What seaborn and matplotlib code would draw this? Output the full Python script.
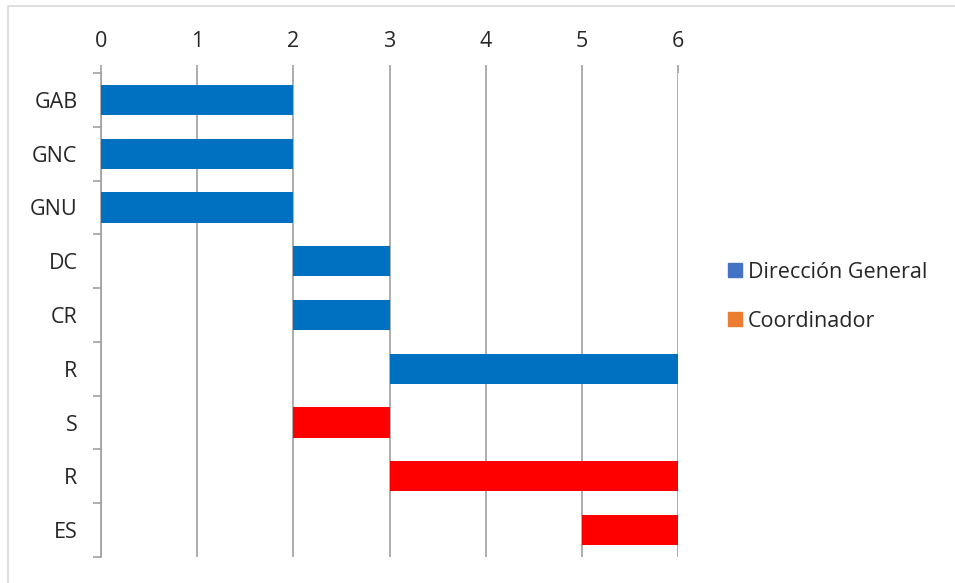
import numpy as np
import pandas as pd
import matplotlib.pyplot as plt
import seaborn as sns
from matplotlib.lines import Line2D
from matplotlib.patches import Rectangle

# Gantt data
tasks = ['GAB', 'GNC', 'GNU', 'DC', 'CR', 'R', 'S', 'R', 'ES']
starts = [0, 0, 0, 2, 2, 3, 2, 3, 5]
durations = [2, 2, 2, 1, 1, 3, 1, 3, 1]
groups = ['Dirección General'] * 6 + ['Coordinador'] * 3
bar_colors = {'Dirección General': '#0070C0', 'Coordinador': '#FF0000'}
legend_colors = {'Dirección General': '#4472C4', 'Coordinador': '#ED7D31'}
x_ticks = [0, 1, 2, 3, 4, 5, 6]

df = pd.DataFrame({'task': tasks, 'start': starts, 'dur': durations, 'group': groups})
df['pos'] = np.arange(len(df))

sns.set_style('white')
plt.rcParams['font.family'] = ['Open Sans', 'DejaVu Sans']

fig = plt.figure(figsize=(9.55, 5.83), dpi=100)
ax = fig.add_axes([101 / 955, 1 - 557 / 583, 577 / 955, 484 / 583])

# outer chart border (only top/left visible in the reference)
fig.patches.append(Rectangle((8 / 955, -0.05), 1.2, 1 - 6 / 583 + 0.05,
                             transform=fig.transFigure, fill=False,
                             edgecolor='#D9D9D9', linewidth=1.2, zorder=0))

ax.barh(df['pos'], df['dur'], left=df['start'], height=0.56,
        color=[bar_colors[g] for g in df['group']], linewidth=0, zorder=3)

ax.set_xlim(0, 6)
ax.set_ylim(len(tasks) - 0.5, -0.5)
ax.set_xticks(x_ticks)
ax.xaxis.tick_top()
ax.tick_params(axis='x', which='major', top=True, bottom=False, length=6,
               color='#A0A0A0', width=1.2, pad=9, labelsize=15.5)
ax.grid(axis='x', color='#A0A0A0', linewidth=1.2, zorder=0)
ax.set_axisbelow(True)

ax.set_yticks(df['pos'])
ax.set_yticklabels(tasks)
ax.set_yticks(np.arange(-0.5, len(tasks), 1), minor=True)
ax.tick_params(axis='y', which='major', length=0, pad=17, labelsize=15.5)
ax.tick_params(axis='y', which='minor', left=True, length=6, color='#A0A0A0', width=1.2)

for side in ['top', 'right', 'bottom']:
    ax.spines[side].set_visible(False)
ax.spines['left'].set_color('#A0A0A0')
ax.spines['left'].set_linewidth(1.2)

handles = [Line2D([0], [0], marker='s', linestyle='', markersize=10,
                  markerfacecolor=legend_colors[g], markeredgecolor=legend_colors[g])
           for g in ['Dirección General', 'Coordinador']]
fig.legend(handles, ['Dirección General', 'Coordinador'], loc='center left',
           bbox_to_anchor=(718 / 955, 1 - 297 / 583), frameon=False, fontsize=15.5,
           handlelength=0.6, handletextpad=0.3, labelspacing=1.3, borderpad=0)

fig.savefig('out.png', dpi=100)
